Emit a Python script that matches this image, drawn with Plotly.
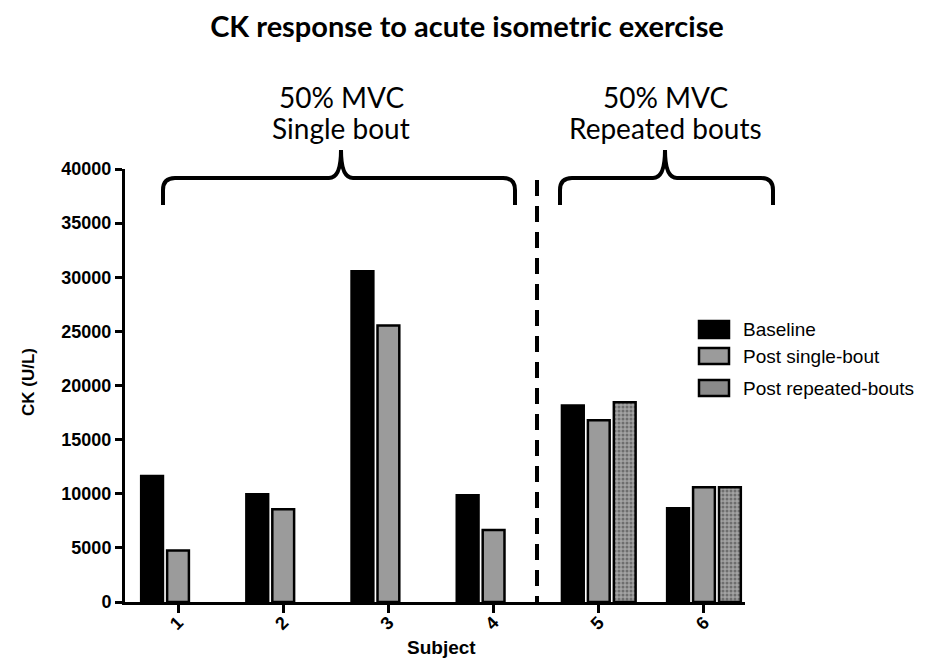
import plotly.graph_objects as go

# ---- data ----
subjects = ["1", "2", "3", "4", "5", "6"]
baseline = [11650, 9950, 30550, 9850, 18150, 8650]
post_single = [4750, 8560, 25550, 6660, 16800, 10600]
post_repeated = [None, None, None, None, 18450, 10600]
series_names = ["Baseline", "Post single-bout", "Post repeated-bouts"]
y_ticks = [0, 5000, 10000, 15000, 20000, 25000, 30000, 35000, 40000]

W, H = 934, 661
L, R, T, B = 125, 745, 169, 602


def px(x):
    return (x - L) / (R - L)


def py(y):
    return (B - y) / (B - T)


fig = go.Figure()
line = dict(color="black", width=2.5)
fig.add_bar(x=subjects, y=baseline, name=series_names[0],
            marker=dict(color="black", line=line), showlegend=False)
fig.add_bar(x=subjects, y=post_single, name=series_names[1],
            marker=dict(color="#9b9b9b", line=line), showlegend=False)
fig.add_bar(x=subjects, y=post_repeated, name=series_names[2],
            marker=dict(color="#999999", line=line,
                        pattern=dict(shape=".", fgcolor="#3a3a3a", bgcolor="#a3a3a3",
                                     size=4, solidity=0.45)),
            showlegend=False)

tickfont = dict(family="Liberation Sans, Arial, sans-serif", size=18, color="black",
                weight="bold")
fig.update_layout(
    width=W, height=H,
    margin=dict(l=L, r=W - R, t=T, b=H - B, pad=0),
    plot_bgcolor="white", paper_bgcolor="white",
    barmode="group", bargap=0.26, bargroupgap=0.16,
    showlegend=False,
    title=dict(text="<b>CK response to acute isometric exercise</b>",
               x=0.5, xanchor="center", y=1 - 27 / H, yanchor="middle",
               font=dict(family="Lato, sans-serif", size=29, color="black")),
    xaxis=dict(type="category", range=[-0.504, 5.39], showline=True, linecolor="black",
               linewidth=3, ticks="outside", ticklen=8, tickwidth=3, tickcolor="black",
               tickangle=-45, tickfont=tickfont, ticklabelstandoff=-8,
               showgrid=False, zeroline=False, fixedrange=True),
    yaxis=dict(range=[0, 40000], tickvals=y_ticks, tickformat="d", showline=True,
               linecolor="black", linewidth=3, ticks="outside", ticklen=7, tickwidth=3,
               tickcolor="black", tickfont=tickfont, showgrid=False, zeroline=False,
               fixedrange=True),
)

anns = []
anns.append(dict(text="<b>Subject</b>", x=px(441), y=py(647), xref="paper", yref="paper",
                 showarrow=False,
                 font=dict(family="Liberation Sans, Arial, sans-serif", size=19, color="black"),
                 xanchor="center", yanchor="middle"))
anns.append(dict(text="<b>CK (U/L)</b>", x=px(28), y=py(382), xref="paper", yref="paper",
                 showarrow=False,
                 font=dict(family="Liberation Sans, Arial, sans-serif", size=17, color="black"),
                 textangle=-90, xanchor="center", yanchor="middle"))

grpfont = dict(family="Lato, sans-serif", size=28, color="black")
for cx, l1, l2 in [(341, "50% MVC", "Single bout"), (665, "50% MVC", "Repeated bouts")]:
    anns.append(dict(text=l1, x=px(cx), y=py(97), xref="paper", yref="paper",
                     showarrow=False, font=grpfont, xanchor="center", yanchor="middle"))
    anns.append(dict(text=l2, x=px(cx), y=py(128), xref="paper", yref="paper",
                     showarrow=False, font=grpfont, xanchor="center", yanchor="middle"))

# legend
legfont = dict(family="Liberation Sans, Arial, sans-serif", size=19, color="black")
leg_items = [(series_names[0], 321, 338, "black"),
             (series_names[1], 348, 364, "#9b9b9b"),
             (series_names[2], 380, 396, "#8a8a8a")]
shapes = []
for name, y0, y1, col in leg_items:
    shapes.append(dict(type="rect", xref="paper", yref="paper",
                       x0=px(699), x1=px(729), y0=py(y1), y1=py(y0),
                       fillcolor=col, line=dict(color="black", width=2.5)))
    anns.append(dict(text=name, x=px(741), y=py((y0 + y1) / 2), xref="paper", yref="paper",
                     showarrow=False, font=legfont, xanchor="left", yanchor="middle"))


def brace(x0, xm, x1, yh, ypk, yend, r=12):
    return (f"M {px(x0)},{py(yend)} L {px(x0)},{py(yh + r)} "
            f"Q {px(x0)},{py(yh)} {px(x0 + r)},{py(yh)} "
            f"L {px(xm - r)},{py(yh)} Q {px(xm)},{py(yh)} {px(xm)},{py(ypk)} "
            f"Q {px(xm)},{py(yh)} {px(xm + r)},{py(yh)} "
            f"L {px(x1 - r)},{py(yh)} Q {px(x1)},{py(yh)} {px(x1)},{py(yh + r)} "
            f"L {px(x1)},{py(yend)}")


for x0, xm, x1 in [(163, 341, 515), (560, 665, 773)]:
    shapes.append(dict(type="path", xref="paper", yref="paper",
                       path=brace(x0, xm, x1, 178, 150, 205),
                       line=dict(color="black", width=4)))

shapes.append(dict(type="line", xref="paper", yref="paper",
                   x0=px(537), x1=px(537), y0=py(180), y1=py(602),
                   line=dict(color="black", width=4, dash="16px,10px")))

fig.update_layout(annotations=anns, shapes=shapes)
fig.write_html("out.html", config={"displayModeBar": False},
               post_script="document.body.style.margin='0';document.body.style.overflow='hidden';")
